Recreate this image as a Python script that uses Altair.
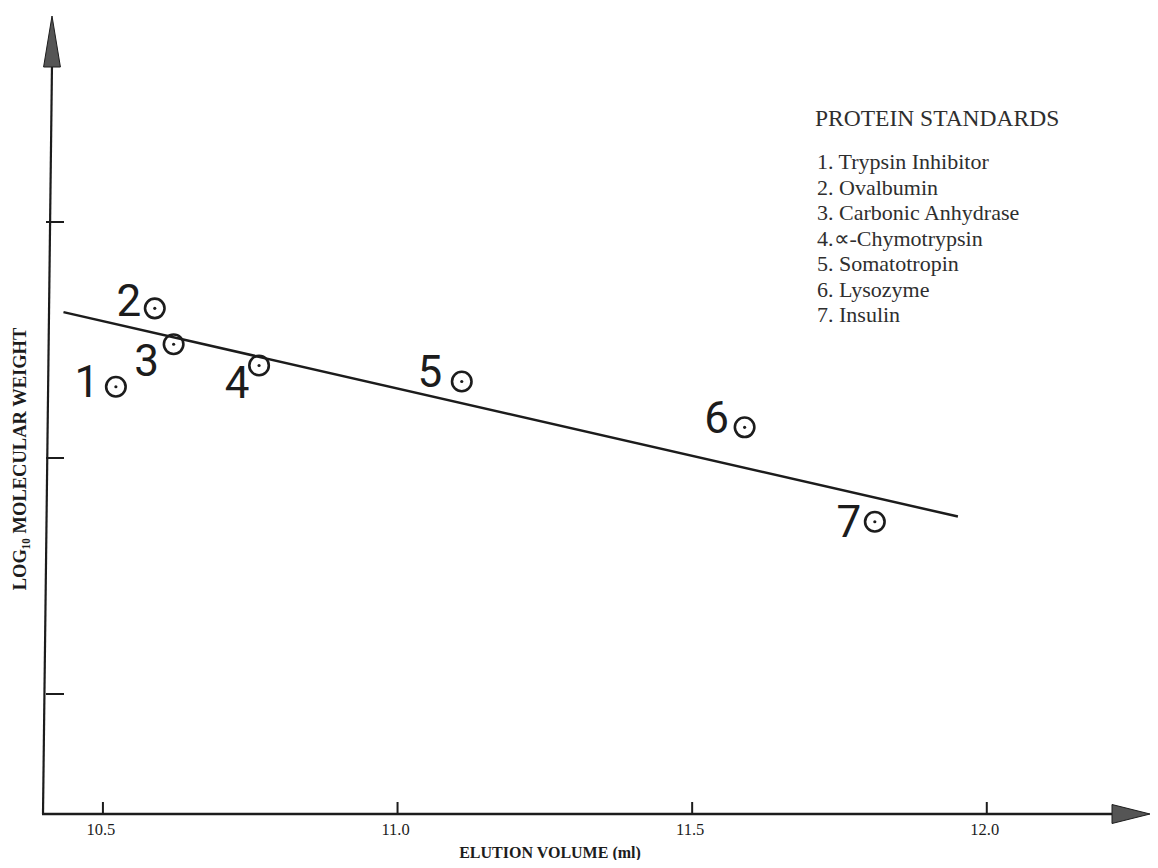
import altair as alt
import pandas as pd

# ---- data ----
numbers = ["1", "2", "3", "4", "5", "6", "7"]
elution_ml = [10.522, 10.588, 10.620, 10.765, 11.109, 11.589, 11.810]
log_mw = [4.151, 4.317, 4.241, 4.196, 4.162, 4.065, 3.865]

fit_x = [10.433, 11.951]
fit_y = [4.309, 3.876]

x_ticks = [10.5, 11.0, 11.5, 12.0]
x_tick_labels = ["10.5", "11.0", "11.5", "12.0"]
y_ticks = [3.5, 4.0, 4.5]

legend_title = "PROTEIN STANDARDS"
standards = [
    "1. Trypsin Inhibitor",
    "2. Ovalbumin",
    "3. Carbonic Anhydrase",
    "4.\u221d-Chymotrypsin",
    "5. Somatotropin",
    "6. Lysozyme",
    "7. Insulin",
]

x_title = "ELUTION VOLUME (ml)"
y_title = "LOG\u2081\u2080 MOLECULAR WEIGHT"

# ---- layout ----
W, H = 1106, 798
INK = "#1c1c1c"

pts = pd.DataFrame({"num": numbers, "x": elution_ml, "y": log_mw})
fit = pd.DataFrame({"x": fit_x, "y": fit_y})
xt = pd.DataFrame({"x": x_ticks, "lab": x_tick_labels})
yt = pd.DataFrame({"y": y_ticks})
one = pd.DataFrame({"a": [0]})

xs = alt.Scale(domain=[10.40, 12.277], nice=False, zero=False)
ys = alt.Scale(domain=[3.2458, 4.9364], nice=False, zero=False)

X = lambda f="x": alt.X(f"{f}:Q", scale=xs, axis=None)
Y = lambda f="y": alt.Y(f"{f}:Q", scale=ys, axis=None)

x_axis_line = alt.Chart(one).mark_rule(color=INK, strokeWidth=2.5).encode(
    x=alt.value(-2), x2=alt.value(1092), y=alt.value(H))
y_axis_line = alt.Chart(one).mark_rule(color=INK, strokeWidth=2.2).encode(
    x=alt.value(-1), x2=alt.value(8), y=alt.value(H), y2=alt.value(48))

x_arrow = alt.Chart(one).mark_point(
    shape="M-1,-0.5L1,0L-1,0.5Z", filled=True, fill="#555555",
    stroke=INK, strokeWidth=1, opacity=1, size=1444).encode(
    x=alt.value(1087), y=alt.value(H))
y_arrow = alt.Chart(one).mark_point(
    shape="M-0.33,1L0,-1L0.33,1Z", filled=True, fill="#555555",
    stroke=INK, strokeWidth=1, opacity=1, size=2601).encode(
    x=alt.value(8), y=alt.value(25.5))

x_tick_marks = alt.Chart(xt).mark_rule(color=INK, strokeWidth=2).encode(
    x=X(), y=alt.value(H), y2=alt.value(H - 12))
x_tick_text = alt.Chart(xt).mark_text(
    font="Liberation Serif", fontSize=16.5, color=INK, align="center",
    baseline="middle", dx=-2).encode(
    x=X(), y=alt.value(H + 16), text="lab:N")
y_tick_marks = alt.Chart(yt).mark_rule(color=INK, strokeWidth=2).encode(
    y=Y(), x=alt.value(2), x2=alt.value(20))

fit_line = alt.Chart(fit).mark_line(color=INK, strokeWidth=2.5).encode(
    x=X(), y=Y())

rings = alt.Chart(pts).mark_point(
    shape="circle", filled=False, size=380, stroke=INK, strokeWidth=2.6,
    opacity=1).encode(x=X(), y=Y())
dots = alt.Chart(pts).mark_point(
    shape="circle", filled=True, size=10, color=INK, opacity=1).encode(
    x=X(), y=Y())

offsets = {"1": (-29, 10), "2": (-26, 8), "3": (-27, 32), "4": (-22, 33),
           "5": (-32, 5), "6": (-28, 6), "7": (-26, 15)}
num_layers = []
for n in numbers:
    dx, dy = offsets[n]
    num_layers.append(
        alt.Chart(pts).transform_filter(alt.datum.num == n).mark_text(
            font="Roboto", fontSize=44, fontWeight="normal", color=INK,
            align="center", baseline="alphabetic", dx=dx, dy=dy).encode(
            x=X(), y=Y(), text="num:N"))

legend_head = alt.Chart(one).mark_text(
    font="Liberation Serif", fontSize=23.5, color="#2e2e2e", align="left",
    baseline="alphabetic").encode(
    x=alt.value(771), y=alt.value(110), text=alt.value(legend_title))
legend_body = alt.Chart(one).mark_text(
    font="Liberation Serif", fontSize=22, color="#2e2e2e", align="left",
    baseline="alphabetic", lineBreak="\n", lineHeight=25.5).encode(
    x=alt.value(773), y=alt.value(153), text=alt.value("\n".join(standards)))

xlab = alt.Chart(one).mark_text(
    font="Liberation Serif", fontSize=16, fontWeight="bold", color=INK,
    align="center", baseline="middle").encode(
    x=alt.value(506), y=alt.value(837), text=alt.value(x_title))
ylab = alt.Chart(one).mark_text(
    font="Liberation Serif", fontSize=18.5, fontWeight="bold", color=INK,
    align="center", baseline="middle", angle=270).encode(
    x=alt.value(-24), y=alt.value(443), text=alt.value(y_title))

chart = alt.layer(
    x_axis_line, y_axis_line, x_arrow, y_arrow,
    x_tick_marks, x_tick_text, y_tick_marks, fit_line, rings, dots,
    *num_layers, legend_head, legend_body, xlab, ylab,
).properties(
    width=W, height=H,
    autosize=alt.AutoSizeParams(type="none"),
    padding={"left": 36, "top": 8, "right": 0, "bottom": 46},
    background="white",
).configure_view(stroke=None)

chart.save("out.html", embed_options={"renderer": "svg", "actions": False})
